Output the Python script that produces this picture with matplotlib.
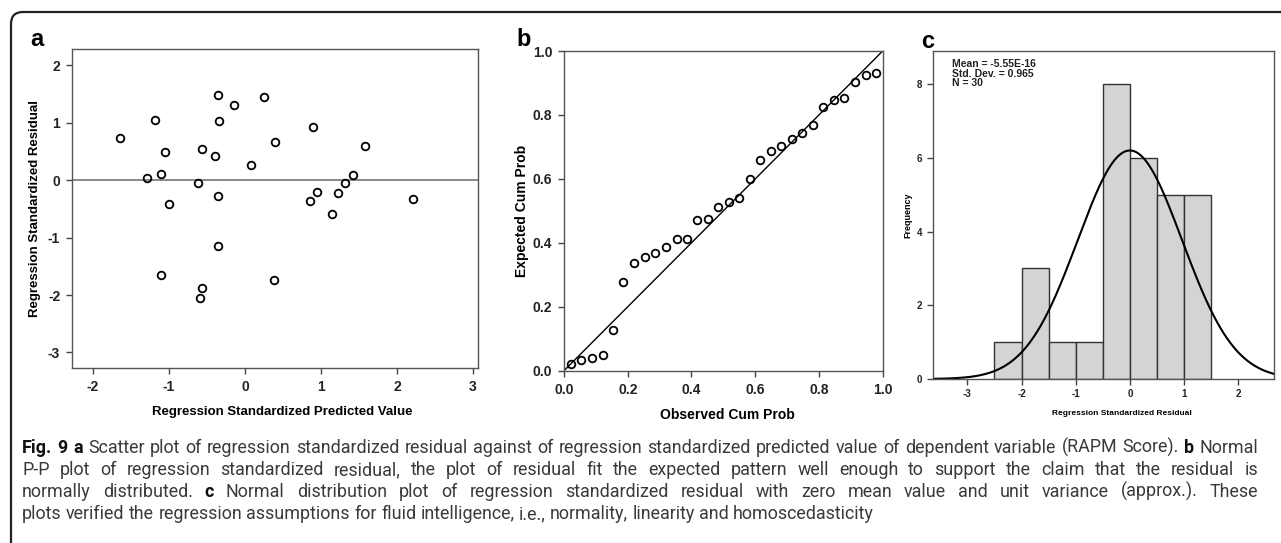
import numpy as np
import matplotlib
matplotlib.use("Agg")
import matplotlib.pyplot as plt
from matplotlib.patches import FancyBboxPatch
from matplotlib.transforms import IdentityTransform

plt.rcParams['axes.unicode_minus'] = False

# panel a: standardized predicted value vs standardized residual
pred = [-1.64, -1.19, -1.05, -1.29, -1.11, -1.00, -1.11, -0.56, -0.59, -0.62,
        -0.56, -0.39, -0.36, -0.34, -0.35, -0.36, -0.14, 0.08, 0.25, 0.39,
        0.38, 0.89, 0.86, 0.95, 1.14, 1.23, 1.31, 1.42, 1.58, 2.21]
resid = [0.74, 1.04, 0.49, 0.03, 0.10, -0.41, -1.65, -1.87, -2.06, -0.06,
         0.54, 0.41, 1.48, 1.03, -0.28, -1.15, 1.30, 0.26, 1.44, 0.66,
         -1.74, 0.93, -0.37, -0.21, -0.59, -0.22, -0.06, 0.08, 0.60, -0.33]

# panel b: P-P plot
observed = [0.021, 0.053, 0.088, 0.121, 0.154, 0.186, 0.220, 0.253, 0.287, 0.319,
            0.353, 0.386, 0.418, 0.452, 0.484, 0.517, 0.550, 0.584, 0.616, 0.649,
            0.682, 0.714, 0.748, 0.780, 0.814, 0.846, 0.880, 0.913, 0.947, 0.979]
expected = [0.020, 0.032, 0.041, 0.050, 0.126, 0.277, 0.337, 0.355, 0.367, 0.388,
            0.411, 0.413, 0.471, 0.474, 0.511, 0.528, 0.540, 0.601, 0.658, 0.687,
            0.704, 0.725, 0.745, 0.770, 0.824, 0.848, 0.852, 0.904, 0.925, 0.930]

# panel c: histogram of residuals
bin_left = [-2.5, -2.0, -1.5, -1.0, -0.5, 0.0, 0.5, 1.0]
counts = [1, 3, 1, 1, 8, 6, 5, 5]
bin_w = 0.5
res_mean = -5.55e-16
res_sd = 0.965
res_n = 30

W, H = 1281, 543
sans = ['Liberation Sans', 'DejaVu Sans']
cap_font = ['Roboto', 'Open Sans', 'DejaVu Sans']
fig = plt.figure(figsize=(W / 100, H / 100), dpi=100)


def axes_px(l, t, r, b):
    return fig.add_axes([l / W, 1 - b / H, (r - l) / W, (b - t) / H])


def style(ax, tsize, pad=4):
    for s in ax.spines.values():
        s.set_color('#555555')
        s.set_linewidth(1.0)
    ax.tick_params(direction='out', length=4.5, width=1, color='#444444',
                   pad=pad, labelsize=tsize)
    for lab in ax.get_xticklabels() + ax.get_yticklabels():
        lab.set_family(sans)
        lab.set_fontweight('bold')
        lab.set_color('#222222')


# ---- a
ax1 = axes_px(72, 49, 478, 368)
ax1.axhline(0, color='#777777', lw=1.2, zorder=1)
ax1.plot(pred, resid, 'o', mfc='none', mec='black', ms=5.5, mew=1.3, zorder=2)
ax1.set_xlim(-2.276, 3.066)
ax1.set_ylim(-3.27, 2.28)
ax1.set_xticks([-2, -1, 0, 1, 2, 3])
ax1.set_yticks([-3, -2, -1, 0, 1, 2])
style(ax1, 10)
ax1.set_xlabel('Regression Standardized Predicted Value', family=sans,
               fontweight='bold', fontsize=9.5)
ax1.set_ylabel('Regression Standardized Residual', family=sans,
               fontweight='bold', fontsize=9.5)
ax1.xaxis.set_label_coords(0.517, -0.119)
ax1.yaxis.set_label_coords(-0.076, 0.5)

# ---- b
ax2 = axes_px(564, 51, 882.7, 370.7)
ax2.plot([0, 1], [0, 1], color='black', lw=1.0)
ax2.plot(observed, expected, 'o', mfc='none', mec='black', ms=5.5, mew=1.3)
ax2.set_xlim(0, 1)
ax2.set_ylim(0, 1)
ax2.set_xticks(np.arange(0, 1.01, 0.2))
ax2.set_yticks(np.arange(0, 1.01, 0.2))
ax2.set_xticklabels(['0.0', '0.2', '0.4', '0.6', '0.8', '1.0'])
ax2.set_yticklabels(['0.0', '0.2', '0.4', '0.6', '0.8', '1.0'])
style(ax2, 10)
ax2.set_xlabel('Observed Cum Prob', family=sans, fontweight='bold', fontsize=10)
ax2.set_ylabel('Expected Cum Prob', family=sans, fontweight='bold', fontsize=10)
ax2.xaxis.set_label_coords(0.512, -0.117)
ax2.yaxis.set_label_coords(-0.110, 0.5)

# ---- c
ax3 = axes_px(932.7, 51, 1274, 379)
ax3.bar(bin_left, counts, width=bin_w, align='edge', color='#d4d4d4',
        edgecolor='#333333', lw=1.0, zorder=1)
xs = np.linspace(-3.64, 2.66, 300)
curve = res_n * bin_w * np.exp(-0.5 * ((xs - res_mean) / res_sd) ** 2) / (res_sd * np.sqrt(2 * np.pi))
ax3.plot(xs, curve, color='black', lw=1.5, zorder=2)
ax3.set_xlim(-3.64, 2.66)
ax3.set_ylim(0, 8.9)
ax3.set_xticks([-3, -2, -1, 0, 1, 2])
ax3.set_yticks([0, 2, 4, 6, 8])
style(ax3, 7, pad=3)
ax3.set_xlabel('Regression Standardized Residual', family=sans,
               fontweight='bold', fontsize=6)
ax3.set_ylabel('Frequency', family=sans, fontweight='bold', fontsize=6.5)
ax3.xaxis.set_label_coords(0.555, -0.093)
ax3.yaxis.set_label_coords(-0.061, 0.5)
ax3.text(0.057, 0.975, 'Mean = -5.55E-16\nStd. Dev. = 0.965\nN = 30',
         transform=ax3.transAxes, va='top', ha='left', family=sans,
         fontweight='bold', fontsize=7.5, linespacing=0.95, color='#222222')

# panel letters
for x, y, s in [(37, 40, 'a'), (524, 40, 'b'), (928, 41, 'c')]:
    fig.text(x / W, 1 - y / H, s, ha='center', va='center', fontsize=17,
             fontweight='bold', family='Liberation Sans')

# outer frame, open at right and bottom
frame = FancyBboxPatch((11, -30), 1320, 30 + H - 12,
                       boxstyle='round,pad=0,rounding_size=12',
                       transform=IdentityTransform(), fill=False,
                       ec='#222222', lw=1.6)
fig.patches.append(frame)

# caption (justified like the journal layout, last line left ragged)
renderer = fig.canvas.get_renderer()
cap_lines = [
    [('Fig. 9 a', True),
     ('Scatter plot of regression standardized residual against of regression standardized '
      'predicted value of dependent variable (RAPM Score).', False),
     ('b', True), ('Normal', False)],
    [('P-P plot of regression standardized residual, the plot of residual fit the expected '
      'pattern well enough to support the claim that the residual is', False)],
    [('normally distributed.', False), ('c', True),
     ('Normal distribution plot of regression standardized residual with zero mean value '
      'and unit variance (approx.). These', False)],
    [('plots verified the regression assumptions for fluid intelligence, i.e., normality, '
      'linearity and homoscedasticity', False)],
]
cap_base = [453, 475, 497, 519]
cap_x0, cap_w = 22, 1236


def words_of(parts):
    out = []
    for s, bold in parts:
        out += [(w, bold) for w in s.split(' ')]
    return out


def put_words(y, words, size, justify):
    texts, widths = [], []
    for w, bold in words:
        t = fig.text(0, 1 - y / H, w, va='baseline', ha='left', fontsize=size,
                     family=cap_font, fontweight='bold' if bold else 'normal',
                     color='#111111' if bold else '#3a3a3a')
        texts.append(t)
        widths.append(t.get_window_extent(renderer).width)
    sp = fig.text(0, 0, 'a a', fontsize=size, family=cap_font)
    sq = fig.text(0, 0, 'aa', fontsize=size, family=cap_font)
    space = sp.get_window_extent(renderer).width - sq.get_window_extent(renderer).width
    sp.remove()
    sq.remove()
    if justify:
        gap = (cap_w - sum(widths)) / (len(words) - 1)
    else:
        gap = space
    x = cap_x0
    for t, w in zip(texts, widths):
        t.set_x(x / W)
        x += w + gap
    return texts, sum(widths) + space * (len(words) - 1)


# pick the size so the longest justified line still fits
size = 14
for _ in range(2):
    worst = 0
    for parts in cap_lines[:3]:
        ts, nat = put_words(0, words_of(parts), size, False)
        for t in ts:
            t.remove()
        worst = max(worst, nat)
    if worst > cap_w:
        size = size * cap_w / worst * 0.995

for i, (y, parts) in enumerate(zip(cap_base, cap_lines)):
    put_words(y, words_of(parts), size, i < 3)

fig.savefig('out.png', dpi=100)
